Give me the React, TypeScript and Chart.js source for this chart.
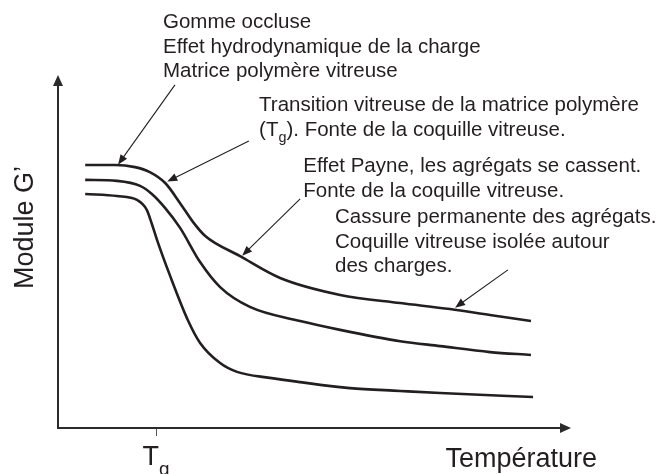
import React, { useEffect, useRef } from 'react';
import { Chart, registerables } from 'chart.js';

Chart.register(...registerables);

// ---- Data (arbitrary units: temperature 0..100 along the x axis, modulus 0..100 along the y axis) ----
const topTemp = [5.3, 11.1, 15.0, 17.9, 20.9, 23.8, 26.3, 28.7, 35.5, 43.3, 55.0, 66.7, 76.4, 84.2, 92.2];
const topModulus = [74.5, 74.5, 73.9, 72.5, 69.4, 63.7, 58.4, 54.4, 48.7, 42.5, 37.7, 35.4, 33.7, 32.0, 30.3];

const midTemp = [5.3, 11.5, 16.0, 18.3, 20.9, 23.8, 27.7, 31.6, 37.4, 47.2, 55.0, 66.7, 74.5, 84.2, 92.2];
const midModulus = [70.3, 70.0, 68.6, 66.3, 62.3, 56.7, 47.0, 39.9, 34.3, 30.3, 27.8, 24.6, 23.2, 21.5, 20.7];

const lowTemp = [5.3, 11.5, 15.4, 17.3, 18.3, 19.3, 21.8, 25.3, 27.7, 31.6, 34.9, 41.3, 47.2, 56.9, 66.7, 74.5, 92.6];
const lowModulus = [66.3, 65.7, 64.6, 61.8, 57.8, 53.3, 43.3, 30.6, 24.1, 18.4, 15.9, 14.2, 13.0, 11.3, 10.5, 9.9, 8.8];

const tgValue = 19.2;
const xAxisLabel = 'Température';
const yAxisLabel = 'Module G’';
const tgLabel = 'T_{g}';

// annotation texts ("_{...}" marks a subscript)
const noteGlassy = ['Gomme occluse', 'Effet hydrodynamique de la charge', 'Matrice polymère vitreuse'];
const noteTransition = ['Transition vitreuse de la matrice polymère', '(T_{g}). Fonte de la coquille vitreuse.'];
const notePayne = ['Effet Payne, les agrégats se cassent.', 'Fonte de la coquille vitreuse.'];
const noteBreak = ['Cassure permanente des agrégats.', 'Coquille vitreuse isolée autour', 'des charges.'];

// ---- Layout / style (kept apart from the data) ----
const INK = '#231f20';
const AXIS_INK = '#2b2b2b';
const FONT = '"Liberation Sans", Arial, Helvetica, sans-serif';
const NOTE_SIZE = 20.5;
const NOTE_LINE = 24.6;
const BIG_SIZE = 27;

// text block anchors in data coordinates (left x, first baseline y)
const noteLayout = [
  { lines: noteGlassy, x: 20.47, y: 113.3 },
  { lines: noteTransition, x: 39.2, y: 89.8 },
  { lines: notePayne, x: 47.8, y: 72.5 },
  { lines: noteBreak, x: 54.0, y: 58.1 },
];

// pointer arrows in data coordinates: tail -> tip
const pointerLayout = [
  { x1: 22.8, y1: 97.2, x2: 11.7, y2: 74.6 },
  { x1: 37.2, y1: 81.3, x2: 21.3, y2: 69.8 },
  { x1: 47.2, y1: 64.9, x2: 35.9, y2: 48.8 },
  { x1: 87.7, y1: 44.8, x2: 77.4, y2: 34.1 },
];

function drawArrow(
  ctx: CanvasRenderingContext2D,
  x1: number, y1: number, x2: number, y2: number,
  len: number, width: number, lw: number
) {
  const a = Math.atan2(y2 - y1, x2 - x1);
  const bx = x2 - len * Math.cos(a);
  const by = y2 - len * Math.sin(a);
  ctx.lineWidth = lw;
  ctx.beginPath();
  ctx.moveTo(x1, y1);
  ctx.lineTo(bx + Math.cos(a) * 2, by + Math.sin(a) * 2);
  ctx.stroke();
  ctx.beginPath();
  ctx.moveTo(x2, y2);
  ctx.lineTo(bx + (width / 2) * Math.sin(a), by - (width / 2) * Math.cos(a));
  ctx.lineTo(bx - (width / 2) * Math.sin(a), by + (width / 2) * Math.cos(a));
  ctx.closePath();
  ctx.fill();
}

function drawRich(ctx: CanvasRenderingContext2D, text: string, x: number, y: number, size: number, subShift: number) {
  const parts = text.split(/(_\{[^}]*\})/);
  let cx = x;
  for (const p of parts) {
    if (!p) continue;
    const sub = p.startsWith('_{');
    const t = sub ? p.slice(2, -1) : p;
    const s = sub ? size * 0.7 : size;
    ctx.font = `${s}px ${FONT}`;
    ctx.fillText(t, cx, sub ? y + size * subShift : y);
    cx += ctx.measureText(t).width;
  }
}

const diagramPlugin = {
  id: 'diagram',
  beforeDatasetsDraw(chart: any) {
    const { ctx } = chart;
    const xs = chart.scales.x;
    const ys = chart.scales.y;
    const X = (v: number) => xs.getPixelForValue(v);
    const Y = (v: number) => ys.getPixelForValue(v);
    ctx.save();
    ctx.strokeStyle = AXIS_INK;
    ctx.fillStyle = AXIS_INK;
    ctx.lineCap = 'butt';
    // axes with arrowheads
    drawArrow(ctx, X(0), Y(0) + 1, X(0), Y(100), 11, 10, 2);
    drawArrow(ctx, X(0) - 1, Y(0), X(100), Y(0), 11, 10, 2);
    // Tg tick
    ctx.lineWidth = 1;
    ctx.strokeStyle = '#555';
    ctx.beginPath();
    ctx.moveTo(Math.round(X(tgValue)) + 0.5, Y(0) + 1);
    ctx.lineTo(Math.round(X(tgValue)) + 0.5, Y(0) + 8);
    ctx.stroke();
    ctx.restore();
  },
  afterDatasetsDraw(chart: any) {
    const { ctx } = chart;
    const xs = chart.scales.x;
    const ys = chart.scales.y;
    const X = (v: number) => xs.getPixelForValue(v);
    const Y = (v: number) => ys.getPixelForValue(v);
    ctx.save();
    ctx.fillStyle = INK;
    ctx.strokeStyle = INK;
    ctx.textBaseline = 'alphabetic';

    // axis titles
    ctx.font = `${BIG_SIZE}px ${FONT}`;
    ctx.textAlign = 'right';
    ctx.fillText(xAxisLabel, X(100) + 26, Y(0) + 39);
    ctx.save();
    ctx.translate(X(0) - 25, (Y(0) + Y(100)) / 2 - 24);
    ctx.rotate(-Math.PI / 2);
    ctx.textAlign = 'center';
    ctx.fillText(yAxisLabel, 0, 0);
    ctx.restore();

    // Tg label
    ctx.textAlign = 'left';
    drawRich(ctx, tgLabel, X(tgValue) - 14, Y(0) + 37, BIG_SIZE, 0.37);

    // notes
    for (const n of noteLayout) {
      n.lines.forEach((line, i) => {
        drawRich(ctx, line, X(n.x), Y(n.y) + i * NOTE_LINE, NOTE_SIZE, 0.3);
      });
    }

    // pointer arrows
    for (const p of pointerLayout) {
      drawArrow(ctx, X(p.x1), Y(p.y1), X(p.x2), Y(p.y2), 10, 8, 1.1);
    }
    ctx.restore();
  },
};

function toPoints(xs: number[], ys: number[]) {
  return xs.map((x, i) => ({ x, y: ys[i] }));
}

export default function App() {
  const ref = useRef<HTMLCanvasElement | null>(null);
  useEffect(() => {
    if (!ref.current) return;
    const common = {
      borderColor: INK,
      borderWidth: 2.6,
      pointRadius: 0,
      fill: false,
      cubicInterpolationMode: 'monotone' as const,
    };
    const chart = new Chart(ref.current, {
      type: 'line',
      data: {
        datasets: [
          { ...common, label: 'top', data: toPoints(topTemp, topModulus) },
          { ...common, label: 'middle', data: toPoints(midTemp, midModulus) },
          { ...common, label: 'bottom', data: toPoints(lowTemp, lowModulus) },
        ],
      },
      options: {
        responsive: false,
        animation: false,
        devicePixelRatio: 1,
        layout: { padding: { left: 58, right: 92, top: 75, bottom: 46 } },
        plugins: { legend: { display: false }, tooltip: { enabled: false } },
        events: [],
        scales: {
          x: { type: 'linear', min: 0, max: 100, display: false },
          y: { type: 'linear', min: 0, max: 100, display: false },
        },
      },
      plugins: [diagramPlugin],
    });
    return () => chart.destroy();
  }, []);
  return (
    <div style={{ position: 'absolute', left: 0, top: 0, width: 663, height: 474, background: '#fff' }}>
      <canvas ref={ref} width={663} height={474} style={{ display: 'block' }} />
    </div>
  );
}
